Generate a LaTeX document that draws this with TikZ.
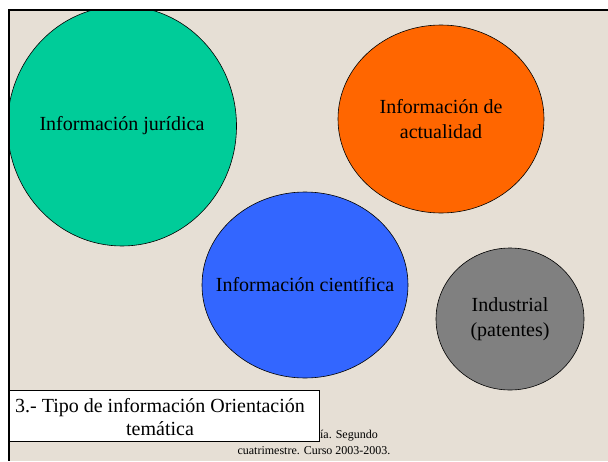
\documentclass[tikz,border=0pt]{standalone}
\usepackage{fontspec}
\setmainfont{Liberation Serif}
\usetikzlibrary{shapes.geometric}
\usetikzlibrary{positioning}
\definecolor{paper}{RGB}{230,223,213}
\definecolor{jurgreen}{RGB}{0,204,153}
\definecolor{actorange}{RGB}{255,102,0}
\definecolor{cienblue}{RGB}{51,102,255}
\definecolor{indgray}{RGB}{128,128,128}
\tikzset{blob/.style={ellipse,draw,line width=0.6pt,inner sep=0pt},
blobtext/.style={align=center,inner sep=0pt,font=\fontsize{20}{25}\selectfont},
foot/.style={font=\fontsize{12}{15}\selectfont,inner sep=0pt}}

\begin{document}
\begin{tikzpicture}[x=1pt,y=-1pt]
\useasboundingbox (0,0) rectangle (608,461);
\fill[paper] (9,10) rectangle (608,461);

\begin{scope}
\clip (9,10) rectangle (608,461);
\node (jur) at (122,126) [blob,fill=jurgreen,minimum width=229pt,minimum height=240pt] {};
\end{scope}
\node (act) at (441,119) [blob,fill=actorange,minimum width=206pt,minimum height=188pt] {};
\node (cien) at (305,285) [blob,fill=cienblue,minimum width=206pt,minimum height=186pt] {};
\node (ind) at (510,319) [blob,fill=indgray,minimum width=148pt,minimum height=142pt] {};

\node (jurn) at (jur.center) [blobtext] {Información jurídica};
\node (actn) at (act.center) [blobtext] {Información de\\actualidad};
\node (cienn) at (cien.center) [blobtext] {Información científica};
\node (indn) at (ind.center) [blobtext] {Industrial\\(patentes)};

%footer
\node (foot2) at (314,451) [foot] {cuatrimestre. Curso 2003-2003.};
\node (foot1) at (378,436) [foot,anchor=east] {ía. Segundo};

\node (tipobox) at (164,416) [draw,fill=white,line width=0.6pt,minimum width=310pt,minimum height=51pt] {};
\node (tipo) at (160,417) [align=center,font=\fontsize{20}{23}\selectfont,inner sep=0pt] {3.- Tipo de información Orientación\\temática};

\draw[line width=2pt] (608,10) -- (9,10) -- (9,461);
\end{tikzpicture}
\end{document}
